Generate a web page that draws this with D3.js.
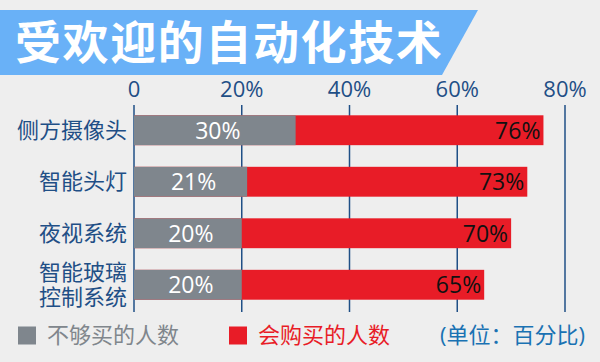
<!DOCTYPE html>
<html>
<head>
<meta charset="utf-8">
<script src="https://cdn.jsdelivr.net/npm/d3@7"></script>
<style>
  body{margin:0;background:#eeeeee;}
  svg{display:block;}
  text{font-family:"Open Sans","Noto Sans CJK SC",sans-serif;}
</style>
</head>
<body>
<div class="chart"></div>
<script>
// data
var titleText="受欢迎的自动化技术"
var categories=[["侧方摄像头"],["智能头灯"],["夜视系统"],["智能玻璃","控制系统"]]
var notBuy=[30,21,20,20]
var willBuy=[76,73,70,65]
var ticks=[0,20,40,60,80]
var legendNames=["不够买的人数","会购买的人数"]
var unitText="(单位：百分比)"

var drawChart=function(){
  var screen={width:600,height:362};
  var grey="#7f868d", red="#e81c27", axisBlue="#1f4f86";

  var svg=d3.select(".chart").append("svg")
      .attr('width', screen.width)
      .attr('height', screen.height)

  svg.append('rect')
      .attr('width', screen.width)
      .attr('height', screen.height)
      .style('fill', '#eeeeee')

  // title banner
  svg.append('path')
      .attr('d', 'M0,10 L478,10 L442,75 L0,75 Z')
      .style('fill', '#69b1f7')
  svg.append('text')
      .attr('x', 15)
      .attr('y', 43)
      .attr('dy', '0.35em')
      .style('font-family', '"Noto Sans CJK SC",sans-serif')
      .style('font-weight', 'bold')
      .style('font-size', '46px')
      .style('letter-spacing', '1.6px')
      .style('fill', '#ffffff')
      .text(titleText)

  var x=d3.scaleLinear()
      .domain([0,80])
      .range([134, 565]);

  var y=d3.scaleBand()
      .domain(d3.range(categories.length))
      .range([105, 310])
      .paddingInner(0.42)
      .paddingOuter(0.2);

  // vertical grid lines
  svg.append('g').selectAll('line')
      .data(ticks)
      .enter().append('line')
      .attr('x1', function(d){ return x(d) })
      .attr('x2', function(d){ return x(d) })
      .attr('y1', 105)
      .attr('y2', 312)
      .style('stroke', axisBlue)
      .attr('stroke-width', 1.5)

  // tick labels on top
  svg.append('g').selectAll('text')
      .data(ticks)
      .enter().append('text')
      .attr('x', function(d){ return x(d) })
      .attr('y', 97)
      .attr('text-anchor', 'middle')
      .style('font-size', '22px')
      .style('fill', axisBlue)
      .text(function(d){ return d==0 ? "0" : d+"%" })

  // red bars (total) then grey bars over them
  svg.append('g').selectAll('rect')
      .data(willBuy)
      .enter().append('rect')
      .attr('x', x(0))
      .attr('y', function(d,i){ return y(i) })
      .attr('width', function(d){ return x(d)-x(0) })
      .attr('height', y.bandwidth())
      .style('fill', red)

  svg.append('g').selectAll('rect')
      .data(notBuy)
      .enter().append('rect')
      .attr('x', x(0))
      .attr('y', function(d,i){ return y(i) })
      .attr('width', function(d){ return x(d)-x(0) })
      .attr('height', y.bandwidth())
      .style('fill', grey)

  // value labels
  svg.append('g').selectAll('text')
      .data(notBuy)
      .enter().append('text')
      .attr('x', function(d){ return (x(0)+x(d))/2+3 })
      .attr('y', function(d,i){ return y(i)+y.bandwidth()/2 })
      .attr('dy', '0.36em')
      .attr('text-anchor', 'middle')
      .style('font-size', '23px')
      .style('fill', '#ffffff')
      .text(function(d){ return d+"%" })

  svg.append('g').selectAll('text')
      .data(willBuy)
      .enter().append('text')
      .attr('x', function(d){ return x(d)-3 })
      .attr('y', function(d,i){ return y(i)+y.bandwidth()/2 })
      .attr('dy', '0.36em')
      .attr('text-anchor', 'end')
      .style('font-size', '23px')
      .style('fill', '#111111')
      .text(function(d){ return d+"%" })

  // category labels
  var cat=svg.append('g').selectAll('text')
      .data(categories)
      .enter().append('text')
      .attr('text-anchor', 'end')
      .style('font-size', '22px')
      .style('fill', axisBlue)
      .attr('y', function(d,i){ return y(i)+y.bandwidth()/2 })
  cat.selectAll('tspan')
      .data(function(d){ return d })
      .enter().append('tspan')
      .attr('x', 127)
      .attr('dy', function(d,i,nodes){
        var n=nodes.length
        if(i==0) return (0.35-(n-1)*0.55)+"em"
        return "1.1em"
      })
      .text(function(d){ return d })

  // legend
  var legendColors=[grey,red]
  var legendX=[18,229]
  var textColors=["#80868c","#e81c27"]
  for(var i=0;i<legendNames.length;i++){
    svg.append('rect')
        .attr('x', legendX[i])
        .attr('y', 326.5)
        .attr('width', 18)
        .attr('height', 18)
        .style('fill', legendColors[i])
    svg.append('text')
        .attr('x', legendX[i]+29)
        .attr('y', 335.5)
        .attr('dy', '0.35em')
        .style('font-size', '22px')
        .style('fill', textColors[i])
        .text(legendNames[i])
  }
  svg.append('text')
      .attr('x', 585)
      .attr('y', 335.5)
      .attr('dy', '0.35em')
      .attr('text-anchor', 'end')
      .style('font-size', '22px')
      .style('fill', '#1a72b3')
      .text(unitText)
}

drawChart()
</script>
</body>
</html>
